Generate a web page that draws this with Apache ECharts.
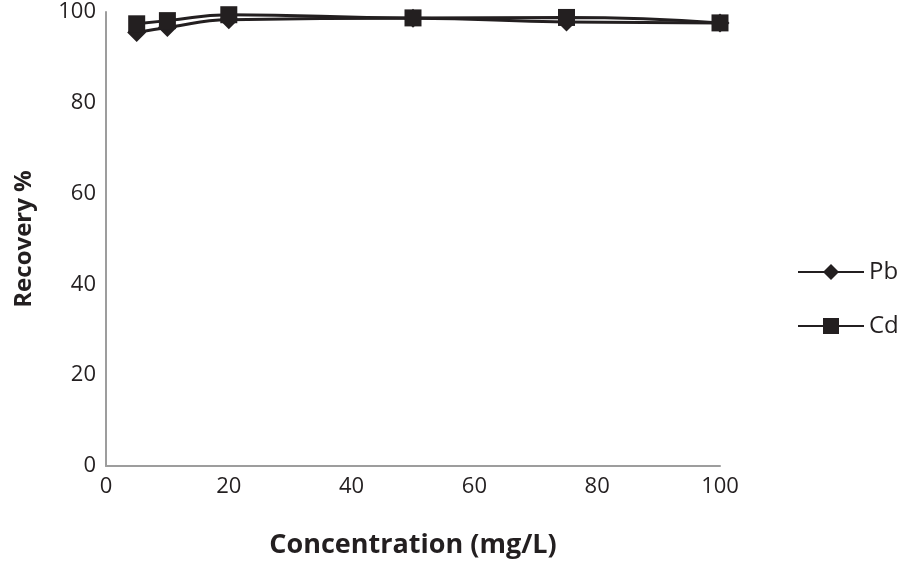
<!DOCTYPE html>
<html><head><meta charset="utf-8">
<script src="https://cdn.jsdelivr.net/npm/echarts@6/dist/echarts.min.js"></script>
<style>html,body{margin:0;padding:0;background:#fff}#c{width:897px;height:561px}</style>
</head><body><div id="c"></div>
<script>
const concentrations = [5, 10, 20, 50, 75, 100];
const pbRecovery = [95.5, 96.6, 98.3, 98.6, 97.8, 97.6];
const cdRecovery = [97.4, 98.1, 99.4, 98.7, 98.8, 97.6];
const xTicks = [0, 20, 40, 60, 80, 100];
const yTicks = [0, 20, 40, 60, 80, 100];

const chart = echarts.init(document.getElementById('c'));
const font = '"Open Sans", "Liberation Sans", sans-serif';
function pairs(vals){ return concentrations.map((x,i)=>[x, vals[i]]); }
chart.setOption({
  animation: false,
  grid: {left: 106, right: 177, top: 12, bottom: 95, outerBoundsMode: 'none', containLabel: false},
  xAxis: {
    type: 'value', min: xTicks[0], max: xTicks[xTicks.length-1], interval: 20,
    name: 'Concentration (mg/L)', nameLocation: 'middle', nameGap: 66,
    nameTextStyle: {fontFamily: font, fontSize: 27, fontWeight: 'bold', color: '#231f20'},
    axisLine: {lineStyle: {color: '#9d9d9d', width: 2}},
    axisTick: {show: false}, splitLine: {show: false},
    axisLabel: {fontFamily: font, fontSize: 22, color: '#231f20', margin: 10}
  },
  yAxis: {
    type: 'value', min: yTicks[0], max: yTicks[yTicks.length-1], interval: 20,
    name: 'Recovery %', nameLocation: 'middle', nameGap: 70,
    nameTextStyle: {fontFamily: font, fontSize: 24, fontWeight: 'bold', color: '#231f20'},
    axisLine: {show: true, lineStyle: {color: '#9d9d9d', width: 2}},
    axisTick: {show: false}, splitLine: {show: false},
    axisLabel: {fontFamily: font, fontSize: 22, color: '#231f20', margin: 10}
  },
  legend: {
    orient: 'vertical', left: 792, top: 255, itemGap: 30,
    itemWidth: 66, itemHeight: 20, itemStyle: {borderWidth: 0},
    textStyle: {fontFamily: font, fontSize: 24, color: '#231f20'},
    data: ['Pb', 'Cd']
  },
  series: [
    {name: 'Pb', type: 'line', smooth: true, data: pairs(pbRecovery),
     symbol: 'diamond', symbolSize: 19,
     lineStyle: {color: '#231f20', width: 3},
     itemStyle: {color: '#231f20'}},
    {name: 'Cd', type: 'line', smooth: true, data: pairs(cdRecovery),
     symbol: 'rect', symbolSize: 17,
     lineStyle: {color: '#231f20', width: 3},
     itemStyle: {color: '#231f20'}}
  ]
});
</script></body></html>
